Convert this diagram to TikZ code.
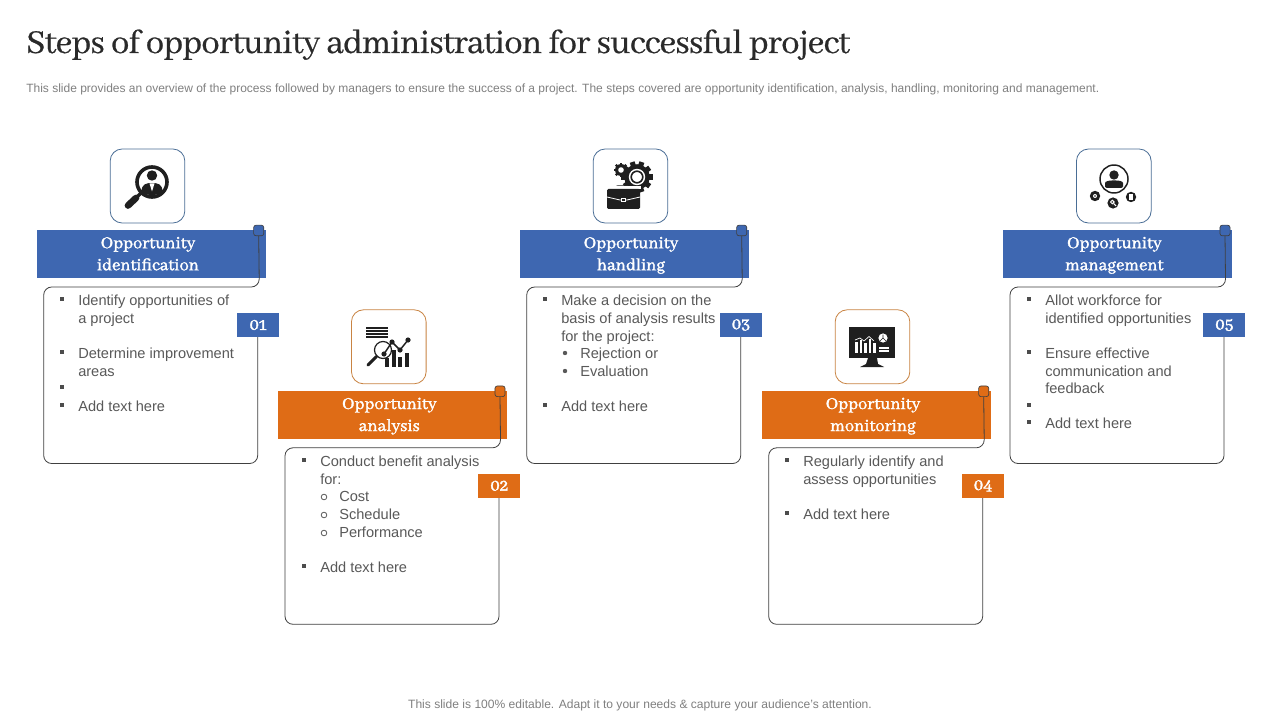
\documentclass[tikz,border=0pt]{standalone}
\usepackage{fontspec}
\setmainfont{Liberation Sans}
\newfontfamily\titlefont[Script=Latin,FakeBold=0.6,LetterSpace=-2.0]{Abhaya Libre}
\newfontfamily\headfont[Script=Latin,FakeBold=1.8]{Abhaya Libre}
\definecolor{cblue}{HTML}{3E67B1}
\definecolor{corange}{HTML}{DF6C16}
\definecolor{ink}{HTML}{1F1F1F}
\definecolor{bodytxt}{HTML}{595959}
\definecolor{outline}{HTML}{404040}
\definecolor{edgeblue}{HTML}{4A6E96}
\definecolor{edgeorange}{HTML}{C98443}
\newcounter{tl}
\tikzset{
  x=0.75pt,y=-0.75pt,
  iconbox/.style={draw,line width=0.6pt,rounded corners=9pt,fill=white,minimum width=56pt,minimum height=55.5pt,inner sep=0pt},
  headbar/.style={minimum width=171.75pt,minimum height=36pt,inner sep=0pt},
  headtxt/.style={text=white,font=\headfont\fontsize{13.8pt}{16.5pt}\selectfont,align=center,inner sep=0pt},
  tabmark/.style={draw=outline,line width=0.5pt,rounded corners=1.8pt,minimum width=7.6pt,minimum height=8pt,inner sep=0pt},
  badge/.style={minimum width=31.5pt,minimum height=18pt,inner sep=0pt,text=white,font=\headfont\fontsize{14pt}{14pt}\selectfont},
  bodyline/.style={draw=outline,line width=0.6pt,rounded corners=6pt},
  txtline/.style={anchor=base west,inner sep=0pt,text=bodytxt,font=\fontsize{10.95pt}{13pt}\selectfont},
}
\newcommand{\card}[8]{% id dx dy colour edge line1 line2 num
 \begin{scope}[shift={(#2,#3)}]
  \node[iconbox,draw=#5] (#1-icon) at (147.5,186) {};
  \node[headbar,fill=#4] (#1-head) at (151.5,254) {};
  \node[headtxt,anchor=center] (#1-title) at (148,255.3) {#6\vphantom{gy}\\#7\vphantom{gyd}};
  \node[tabmark,fill=#4] (#1-tab) at (258.7,230.5) {};
  \draw[bodyline] (#1-tab.south) -- (259.3,287) -- (43.7,287) -- (43.7,463.5) -- (257.7,463.5) -- (257.7,337);
  \node[badge,fill=#4] (#1-badge) at (258,325) {#8};
 \end{scope}}
\newcommand{\tl}[3]{\stepcounter{tl}\node[txtline] (tl\thetl) at (#1,#2) {#3};}
\newcommand{\sqb}[2]{\fill[bodytxt!85!black] (#1-1.8,#2-1.8) rectangle (#1+1.8,#2+1.8);}
\newcommand{\gear}[4]{% x y r teeth
 \fill[ink] (#1,#2) circle (#3*0.8);
 \foreach \i in {1,...,#4}{\draw[ink,line width=#3*0.24pt] (#1,#2) ++(\i*360/#4:#3*0.6) -- ++(\i*360/#4:#3*0.38);}
}
\begin{document}
\begin{tikzpicture}
\useasboundingbox (0,0) rectangle (1280,720);
\fill[white] (0,0) rectangle (1280,720);
\node[anchor=base west,inner sep=0pt,text=ink!95!white,font=\titlefont\fontsize{27.5pt}{30pt}\selectfont] (title) at (26,53) {Steps of opportunity administration for successful project};
\node[anchor=base west,inner sep=0pt,text=black!50,font=\fontsize{9pt}{10pt}\selectfont] (sub) at (26,92.5) {This slide provides an overview of the process followed by managers to ensure the success of a project. The steps covered are opportunity identification, analysis, handling, monitoring and management.};
\node[anchor=base,inner sep=0pt,text=black!50,font=\fontsize{9.05pt}{10pt}\selectfont] (foot) at (640,708.5) {This slide is 100\% editable. Adapt it to your needs \& capture your audience’s attention.};

\card{a}{0}{0}{cblue}{edgeblue}{Opportunity}{identification}{01}
\card{b}{241.3}{160.8}{corange}{edgeorange}{Opportunity}{analysis}{02}
\card{c}{483}{0}{cblue}{edgeblue}{Opportunity}{handling}{03}
\card{d}{725}{160.8}{corange}{edgeorange}{Opportunity}{monitoring}{04}
\card{e}{966.3}{0}{cblue}{edgeblue}{Opportunity}{management}{05}

% card 1 text
\sqb{62}{299}\tl{78}{305}{Identify opportunities of}
\tl{78}{323}{a project}
\sqb{62}{352}\tl{78}{358}{Determine improvement}
\tl{78}{376}{areas}
\sqb{62}{387}
\sqb{62}{405}\tl{78}{411}{Add text here}
% card 2 text
\sqb{304}{460}\tl{320}{466}{Conduct benefit analysis}
\tl{320}{484}{for:}
\draw[bodytxt,line width=0.6pt] (324,497) circle (2.8);\tl{339}{501}{Cost}
\draw[bodytxt,line width=0.6pt] (324,515) circle (2.8);\tl{339}{519}{Schedule}
\draw[bodytxt,line width=0.6pt] (324,533) circle (2.8);\tl{339}{537}{Performance}
\sqb{304}{566}\tl{320}{572}{Add text here}
% card 3 text
\sqb{545}{299}\tl{561}{305}{Make a decision on the}
\tl{561}{323}{basis of analysis results}
\tl{561}{341}{for the project:}
\fill[bodytxt] (565,353) circle (2.2);\tl{580}{358}{Rejection or}
\fill[bodytxt] (565,371) circle (2.2);\tl{580}{376}{Evaluation}
\sqb{545}{405}\tl{561}{411}{Add text here}
% card 4 text
\sqb{787}{460}\tl{803}{466}{Regularly identify and}
\tl{803}{484}{assess opportunities}
\sqb{787}{513}\tl{803}{519}{Add text here}
% card 5 text
\sqb{1029}{299}\tl{1045}{305}{Allot workforce for}
\tl{1045}{323}{identified opportunities}
\sqb{1029}{352}\tl{1045}{358}{Ensure effective}
\tl{1045}{376}{communication and}
\tl{1045}{393}{feedback}
\sqb{1029}{405}
\sqb{1029}{422}\tl{1045}{428}{Add text here}

% icon 1: magnifier with person
\draw[ink,line width=2.7pt] (152,182) circle (15);
\fill[ink] (152,175.5) circle (5.2);
\fill[ink] (141.5,192) .. controls (141.5,184) and (146,183) .. (152,183) .. controls (158,183) and (162.5,184) .. (162.5,192) .. controls (158,196) and (146,196) .. (141.5,192) -- cycle;
\fill[white] (149.5,183.5) -- (154.5,183.5) -- (152,191.5) -- cycle;
\draw[ink,line width=2.4pt] (141,193) -- (136,198);
\draw[ink,line width=5pt,line cap=round] (136,198) -- (128,205.5);

% icon 2: report and chart
\foreach \yy in {328,331,334,337}{\draw[ink,line width=1.5pt] (366,\yy) -- (388,\yy);}
\fill[white] (376,329.4) rectangle (378,329.9);
\foreach \bx/\bt in {385/358,392/350,398/357,405/353}{\fill[ink] (\bx,\bt) rectangle (\bx+4,367);}
\draw[ink,line width=0.9pt,fill=white,fill opacity=0.75] (383,350) circle (8.5);
\draw[ink,line width=2.2pt,line cap=round] (376.5,356.5) -- (368,365);
\draw[ink,line width=1.1pt] (384,354) -- (392,342) -- (400,350) -- (408,340);
\foreach \px/\py in {384/354,392/342,400/350,408/340}{\fill[ink] (\px,\py) circle (2.6);}

% icon 3: gears and briefcase
\gear{637}{177}{16}{10}
\fill[white] (637,177) circle (8.2);
\draw[ink,line width=1.2pt] (637,177) circle (5.8);
\gear{621}{170}{7.5}{8}
\fill[white] (621,170) circle (2.8);
\draw[ink,line width=1.1pt,rounded corners=1.5pt,fill=white] (616,192) -- (616,186) -- (630,186) -- (630,192);
\fill[white] (605.5,186) rectangle (640.5,189);
\fill[ink,rounded corners=1pt] (607,189) rectangle (640,209);
\draw[white,line width=0.6pt] (607,197) -- (620,200) -- (627,200) -- (640,197);
\fill[white] (621.3,197.6) rectangle (625.7,202.4);
\fill[ink] (622.3,198.8) rectangle (624.7,201.2);

% icon 4: monitor
\fill[ink] (849,327) rectangle (895,358);
\fill[ink] (868,358) -- (877,358) -- (878,364) -- (884,367) -- (860,367) -- (866,364) -- cycle;
\foreach \bx/\bt in {855/342,859.5/340,864/343,868.5/339,873/343}{\fill[white] (\bx,\bt) rectangle (\bx+2.8,353);}
\draw[white,line width=0.5pt] (855,340) -- (860,338) -- (864,341) -- (869,336.5) -- (874,341);
\fill[white] (883,338) circle (4.6);
\draw[ink,line width=0.5pt] (883,338) -- (883,334.5) (883,338) -- (880,341) (883,338) -- (886,341);
\foreach \yy in {348,351}{\draw[white,line width=0.8pt] (879,\yy) -- (889,\yy);}

% icon 5: person and satellites
\draw[ink,line width=1.1pt] (1114,179) circle (14);
\fill[ink] (1114,175) circle (4.7);
\fill[ink,rounded corners=1.5pt] (1105,188) -- (1105,185) .. controls (1105,181) and (1110,180.5) .. (1114,180.5) .. controls (1118,180.5) and (1123,181) .. (1123,185) -- (1123,188) -- cycle;
\fill[white] (1095,196) circle (6.4);
\fill[white] (1113,203) circle (6.8);
\fill[white] (1131,197) circle (6.4);
\fill[ink] (1095,196) circle (5.2);
\fill[white] (1095,196) circle (2);
\fill[ink] (1095,196) circle (0.8);
\fill[ink] (1113,203) circle (5.6);
\draw[white,line width=0.7pt] (1112.3,202) circle (1.8);
\draw[white,line width=0.8pt] (1113.6,203.4) -- (1116,206);
\fill[ink] (1131,197) circle (5.2);
\fill[white] (1129,194) rectangle (1133,200);
\end{tikzpicture}
\end{document}
